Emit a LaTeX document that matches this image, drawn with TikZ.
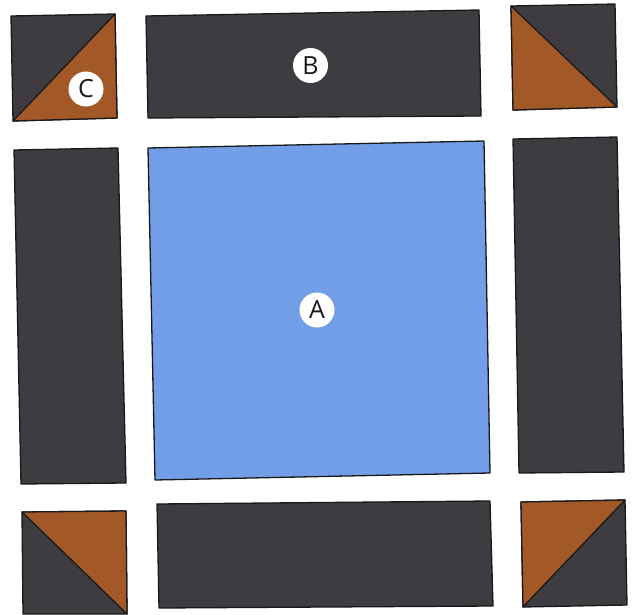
\documentclass[tikz,border=0pt]{standalone}
\usepackage{fontspec}
\setmainfont{Open Sans}
\definecolor{darkpiece}{RGB}{62,60,64}
\definecolor{brownpiece}{RGB}{163,88,40}
\definecolor{bluepiece}{RGB}{114,158,232}
\tikzset{
  piece/.style={draw=black!90, line width=1.3pt, line join=round},
  dark/.style={piece, fill=darkpiece},
  blue/.style={piece, fill=bluepiece},
  brown/.style={piece, fill=brownpiece},
  badge/.style={circle, fill=white, inner sep=0pt, minimum size=35pt, font=\fontsize{25}{25}\selectfont, text=black!90}
}
\begin{document}
\begin{tikzpicture}[x=1pt,y=-1pt]
\useasboundingbox (0,0) rectangle (634,615);
% top-left corner square (C)
\draw[dark] (11,16) -- (115,14) -- (117,118) -- (13,121) -- cycle;
\draw[brown] (13,121) -- (115,14) -- (117,118) -- cycle;
% top bar (B)
\draw[dark] (146,16) -- (479,10) -- (481,116) -- (148,118) -- cycle;
% top-right corner square
\draw[dark] (511,6) -- (615,4) -- (617,107) -- (513,110) -- cycle;
\draw[brown] (511,6) -- (617,107) -- (513,110) -- cycle;
% left bar
\draw[dark] (14,150) -- (118,148) -- (126,483) -- (21,484) -- cycle;
% center square (A)
\draw[blue] (148,148) -- (484,141) -- (490,473) -- (155,480) -- cycle;
% right bar
\draw[dark] (513,139) -- (617,137) -- (624,472) -- (519,473) -- cycle;
% bottom-left corner square
\draw[dark] (22,512) -- (126,511) -- (127,614) -- (23,614) -- cycle;
\draw[brown] (22,512) -- (126,511) -- (127,614) -- cycle;
% bottom bar
\draw[dark] (157,504) -- (490,501) -- (493,606) -- (159,608) -- cycle;
% bottom-right corner square
\draw[dark] (521,502) -- (625,500) -- (627,605) -- (523,607) -- cycle;
\draw[brown] (521,502) -- (625,500) -- (523,607) -- cycle;
% labels
\node[badge] (labelA) at (317,310) {A};
\node[badge] (labelB) at (310.5,65.5) {B};
\node[badge] (labelC) at (86,89) {C};
\end{tikzpicture}
\end{document}
